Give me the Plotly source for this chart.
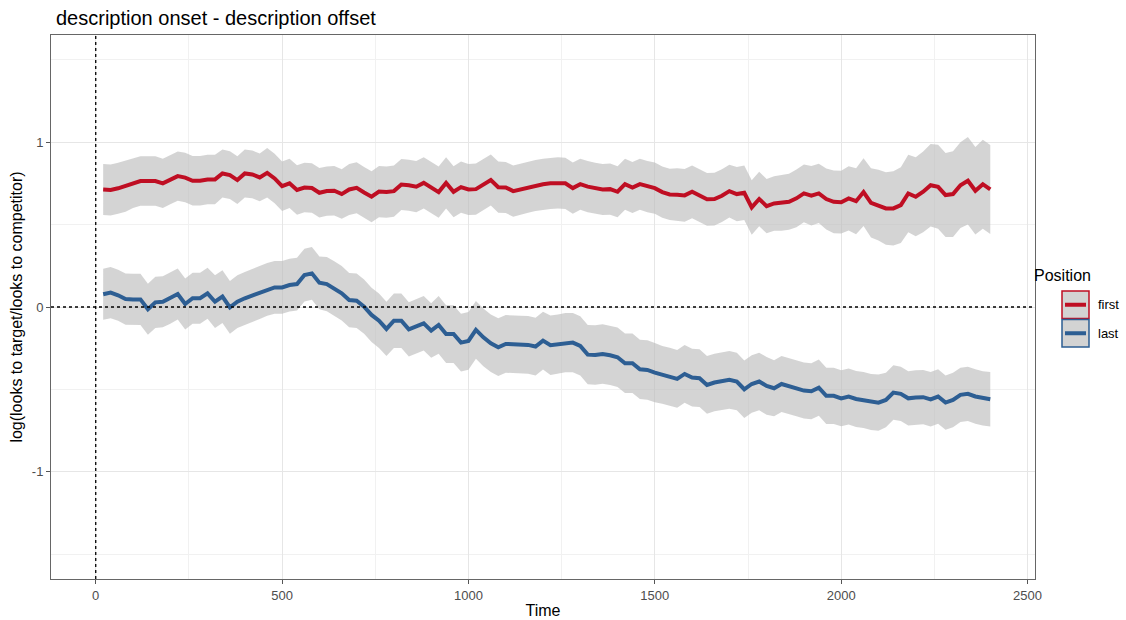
"""Looks ratio over time by position, with ribbons."""

import plotly.graph_objects as go

TIME = list(range(20, 2401, 20))

FIRST_MEAN = [
    0.713, 0.71, 0.72, 0.733, 0.75, 0.764, 0.764, 0.764, 0.75, 0.774,
    0.794, 0.785, 0.766, 0.766, 0.774, 0.774, 0.81, 0.80, 0.77, 0.81,
    0.804, 0.786, 0.814, 0.78, 0.733, 0.75, 0.71, 0.725, 0.722, 0.693,
    0.703, 0.705, 0.685, 0.713, 0.723, 0.695, 0.669, 0.70, 0.697, 0.703,
    0.743, 0.739, 0.73, 0.753, 0.727, 0.697, 0.753, 0.699, 0.727, 0.713,
    0.715, 0.74, 0.77, 0.727, 0.725, 0.703, 0.715, 0.727, 0.737, 0.745,
    0.75, 0.753, 0.75, 0.721, 0.745, 0.73, 0.72, 0.713, 0.715, 0.699,
    0.745, 0.725, 0.745, 0.73, 0.721, 0.697, 0.683, 0.681, 0.677, 0.699,
    0.675, 0.653, 0.655, 0.675, 0.703, 0.685, 0.693, 0.604, 0.655, 0.612,
    0.628, 0.632, 0.638, 0.659, 0.689, 0.675, 0.689, 0.655, 0.638, 0.636,
    0.659, 0.642, 0.697, 0.632, 0.618, 0.598, 0.598, 0.618, 0.689, 0.669,
    0.699, 0.739, 0.729, 0.679, 0.685, 0.739, 0.766, 0.705, 0.745, 0.713,
]

FIRST_SE = [
    0.155, 0.155, 0.155, 0.155, 0.15, 0.15, 0.15, 0.15, 0.15, 0.15,
    0.15, 0.15, 0.15, 0.15, 0.15, 0.15, 0.145, 0.145, 0.145, 0.145,
    0.145, 0.145, 0.15, 0.15, 0.15, 0.15, 0.15, 0.15, 0.15, 0.15,
    0.15, 0.15, 0.15, 0.155, 0.155, 0.155, 0.155, 0.155, 0.155, 0.155,
    0.155, 0.155, 0.155, 0.155, 0.155, 0.155, 0.155, 0.155, 0.155, 0.155,
    0.155, 0.155, 0.155, 0.155, 0.155, 0.155, 0.155, 0.155, 0.155, 0.155,
    0.155, 0.155, 0.155, 0.155, 0.155, 0.155, 0.155, 0.155, 0.155, 0.155,
    0.155, 0.155, 0.155, 0.155, 0.155, 0.155, 0.155, 0.16, 0.16, 0.16,
    0.16, 0.16, 0.16, 0.16, 0.16, 0.165, 0.165, 0.165, 0.165, 0.165,
    0.165, 0.17, 0.17, 0.175, 0.175, 0.18, 0.18, 0.185, 0.19, 0.19,
    0.195, 0.2, 0.205, 0.21, 0.215, 0.22, 0.225, 0.23, 0.235, 0.24,
    0.245, 0.25, 0.255, 0.255, 0.26, 0.26, 0.265, 0.265, 0.27, 0.27,
]

LAST_MEAN = [
    0.077, 0.087, 0.071, 0.048, 0.046, 0.046, -0.014, 0.028, 0.032, 0.053,
    0.079, 0.018, 0.053, 0.053, 0.083, 0.032, 0.063, -0.002, 0.032, 0.053,
    0.07, 0.087, 0.107, 0.119, 0.119, 0.133, 0.139, 0.194, 0.204, 0.147,
    0.139, 0.113, 0.083, 0.042, 0.038, 0.002, -0.048, -0.083, -0.133, -0.083,
    -0.083, -0.136, -0.119, -0.099, -0.143, -0.109, -0.164, -0.164, -0.216, -0.206,
    -0.139, -0.184, -0.22, -0.244, -0.224, -0.224, -0.228, -0.23, -0.24, -0.204,
    -0.232, -0.226, -0.216, -0.216, -0.236, -0.289, -0.291, -0.285, -0.293, -0.305,
    -0.341, -0.341, -0.378, -0.382, -0.398, -0.412, -0.422, -0.436, -0.406, -0.428,
    -0.432, -0.473, -0.458, -0.448, -0.442, -0.452, -0.499, -0.467, -0.452, -0.479,
    -0.493, -0.467, -0.479, -0.493, -0.507, -0.511, -0.489, -0.539, -0.539, -0.554,
    -0.543, -0.558, -0.564, -0.576, -0.58, -0.564, -0.519, -0.527, -0.554, -0.549,
    -0.547, -0.56, -0.543, -0.58, -0.564, -0.533, -0.527, -0.543, -0.554, -0.56,
]

LAST_SE = [
    0.155, 0.155, 0.155, 0.155, 0.155, 0.155, 0.155, 0.155, 0.155, 0.155,
    0.155, 0.155, 0.155, 0.155, 0.155, 0.16, 0.16, 0.16, 0.16, 0.16,
    0.16, 0.16, 0.16, 0.16, 0.16, 0.16, 0.16, 0.16, 0.16, 0.16,
    0.165, 0.165, 0.165, 0.165, 0.165, 0.165, 0.165, 0.165, 0.165, 0.165,
    0.165, 0.165, 0.165, 0.165, 0.165, 0.175, 0.175, 0.175, 0.175, 0.175,
    0.175, 0.175, 0.175, 0.175, 0.175, 0.175, 0.175, 0.175, 0.175, 0.175,
    0.18, 0.18, 0.18, 0.18, 0.18, 0.18, 0.18, 0.18, 0.18, 0.18,
    0.18, 0.18, 0.18, 0.18, 0.18, 0.175, 0.175, 0.175, 0.175, 0.175,
    0.175, 0.175, 0.175, 0.175, 0.175, 0.175, 0.175, 0.175, 0.175, 0.175,
    0.17, 0.17, 0.17, 0.17, 0.17, 0.17, 0.17, 0.17, 0.17, 0.17,
    0.17, 0.17, 0.17, 0.17, 0.17, 0.165, 0.165, 0.165, 0.165, 0.165,
    0.165, 0.165, 0.165, 0.165, 0.165, 0.165, 0.165, 0.165, 0.165, 0.165,
]

SERIES = [
    ("first", FIRST_MEAN, FIRST_SE, "#BF0E23"),
    ("last", LAST_MEAN, LAST_SE, "#2D5E93"),
]

RIBBON_FILL = "rgba(185,185,185,0.62)"
FONT = "Liberation Sans, Arial, sans-serif"

# figure fills the 1126 x 620 page (body margin removed in post_script)
W, H = 1126, 620
PL, PR, PT, PB = 51, 1035, 35, 579


def px_x(x):
    return (x - PL) / (PR - PL)


def px_y(y):
    return (PB - y) / (PB - PT)


fig = go.Figure()

for name, mean, se, colour in SERIES:
    upper = [m + s for m, s in zip(mean, se)]
    lower = [m - s for m, s in zip(mean, se)]
    fig.add_trace(
        go.Scatter(
            x=TIME + TIME[::-1],
            y=upper + lower[::-1],
            fill="toself",
            fillcolor=RIBBON_FILL,
            line=dict(width=0),
            mode="lines",
            hoverinfo="skip",
            showlegend=False,
        )
    )

for name, mean, se, colour in SERIES:
    fig.add_trace(
        go.Scatter(
            x=TIME,
            y=mean,
            mode="lines",
            name=name,
            line=dict(color=colour, width=4),
            showlegend=False,
        )
    )

fig.add_hline(y=0, line=dict(color="black", width=1.3, dash="dot"))
fig.add_vline(x=0, line=dict(color="black", width=1.3, dash="dot"))

# hand-drawn ggplot style legend
fig.add_annotation(
    text="Position", xref="paper", yref="paper",
    x=px_x(1032), y=px_y(275), xanchor="left", yanchor="middle",
    showarrow=False, font=dict(family=FONT, size=16, color="black"),
)
for i, (name, mean, se, colour) in enumerate(SERIES):
    top = 291 + i * 28.5
    bot = top + 27.5
    mid = (top + bot) / 2
    fig.add_shape(
        type="rect", xref="paper", yref="paper",
        x0=px_x(1062), x1=px_x(1089), y0=px_y(bot), y1=px_y(top),
        fillcolor="#D3D3D3", line=dict(color=colour, width=1.5),
        layer="above",
    )
    fig.add_shape(
        type="line", xref="paper", yref="paper",
        x0=px_x(1065), x1=px_x(1086), y0=px_y(mid), y1=px_y(mid),
        line=dict(color=colour, width=4), layer="above",
    )
    fig.add_annotation(
        text=name, xref="paper", yref="paper",
        x=px_x(1096), y=px_y(mid), xanchor="left", yanchor="middle",
        showarrow=False, font=dict(family=FONT, size=13, color="black"),
    )

fig.update_layout(
    width=W,
    height=H,
    margin=dict(l=PL, r=W - PR, t=PT, b=H - PB),
    plot_bgcolor="white",
    paper_bgcolor="white",
    showlegend=False,
    font=dict(family=FONT),
    title=dict(
        text="description onset - description offset",
        x=56 / W, xanchor="left",
        y=1 - 18 / H, yanchor="middle",
        font=dict(family=FONT, size=20, color="black"),
    ),
    xaxis=dict(
        range=[-120, 2520],
        automargin=False,
        tickvals=[0, 500, 1000, 1500, 2000, 2500],
        ticks="outside", ticklen=4, tickcolor="#555555",
        tickfont=dict(size=13, color="#4D4D4D"),
        showgrid=True, gridcolor="#E6E6E6", gridwidth=1,
        minor=dict(tickvals=[250, 750, 1250, 1750, 2250], showgrid=True,
                   gridcolor="#F1F1F1", gridwidth=1),
        zeroline=False,
        showline=True, linecolor="#666666", linewidth=1, mirror=True,
        title=dict(text="Time", font=dict(size=16, color="black"), standoff=3),
    ),
    yaxis=dict(
        range=[-1.65, 1.65],
        automargin=False,
        tickvals=[-1, 0, 1],
        ticktext=["-1", "0", "1"],
        ticks="outside", ticklen=4, tickcolor="#555555",
        tickfont=dict(size=13, color="#4D4D4D"),
        showgrid=True, gridcolor="#E6E6E6", gridwidth=1,
        minor=dict(tickvals=[-1.5, -0.5, 0.5, 1.5], showgrid=True,
                   gridcolor="#F1F1F1", gridwidth=1),
        zeroline=False,
        showline=True, linecolor="#666666", linewidth=1, mirror=True,
        title=dict(text="log(looks to target/looks to competitor)",
                   font=dict(size=16, color="black"), standoff=5),
    ),
)

fig.write_html(
    "out.html",
    config={"displayModeBar": False},
    post_script=(
        "document.body.style.margin='0';"
        "document.body.style.overflow='hidden';"
        "document.documentElement.style.overflow='hidden';"
    ),
)
